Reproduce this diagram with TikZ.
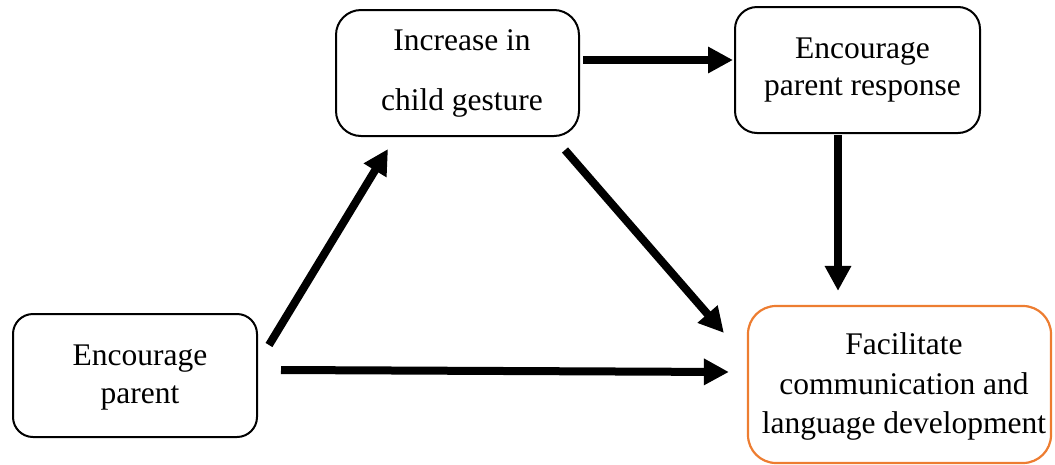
\documentclass[tikz,border=0pt]{standalone}
\usepackage{fontspec}
\setmainfont{Liberation Serif}
\usetikzlibrary{arrows.meta,calc}
\definecolor{borange}{HTML}{ED7D31}
\tikzset{
  box/.style={draw=black, line width=2pt, rounded corners=22pt, rectangle, inner sep=0pt},
  obox/.style={box, draw=borange, line width=2.2pt, rounded corners=28pt},
  txt/.style={anchor=base, inner sep=0pt, font=\fontsize{31.5}{38}\selectfont},
  thickarrow/.style={line width=8pt, -{Triangle[length=25pt,width=25pt]}}
}
\begin{document}
\begin{tikzpicture}[x=1pt,y=-1pt]
\useasboundingbox (0,0) rectangle (1055,464);
% boxes
\node[box, minimum width=244pt, minimum height=123pt, rounded corners=20pt] (A) at (135,375.5) {};
\node[box, minimum width=243pt, minimum height=126pt, rounded corners=25pt] (B) at (457.5,73) {};
\node[box, minimum width=245pt, minimum height=126pt] (C) at (857.5,70) {};
\node[obox, minimum width=303pt, minimum height=157pt] (D) at (899.5,384.5) {};
% texts
\node[txt] (a1) at (140,365) {Encourage};
\node[txt] (a2) at (140,403) {parent};
\node[txt] (b1) at (462,50) {Increase in};
\node[txt] (b2) at (462,110) {child gesture};
\node[txt] (c1) at (862.5,58) {Encourage};
\node[txt] (c2) at (862.5,95) {parent response};
\node[txt] (d1) at (904,354) {Facilitate};
\node[txt] (d2) at (904,394) {communication and};
\node[txt] (d3) at (904,433) {language development};
% arrows
\draw[thickarrow] ($(A.east)+(11,-30.5)$) -- ($(B.south)+(-69.5,12)$);
\draw[thickarrow] ($(A.east)+(23,-5.5)$) -- ($(D.west)+(-18,-12.5)$);
\draw[thickarrow] ($(B.east)+(3,-13)$) -- ($(C.west)+(-1,-10)$);
\draw[thickarrow] ($(B.south east)+(-15,13)$) -- ($(D.north west)+(-23,28)$);
\draw[thickarrow] ($(C.south)+(-19.5,1)$) -- ($(D.north)+(-61.5,-14)$);
\end{tikzpicture}
\end{document}
